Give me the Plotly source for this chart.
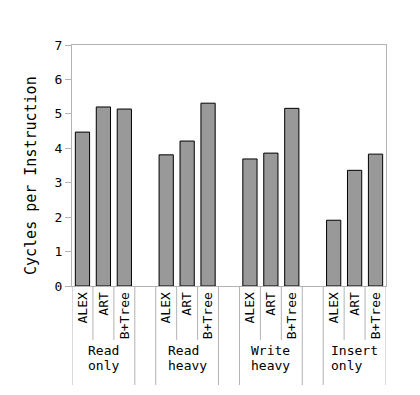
import plotly.graph_objects as go

workloads = ["Read only", "Read heavy", "Write heavy", "Insert only"]
workload_line1 = ["Read", "Read", "Write", "Insert"]
workload_line2 = ["only", "heavy", "heavy", "only"]
indexes = ["ALEX", "ART", "B+Tree"]
cpi_read_only = [4.47, 5.20, 5.14]
cpi_read_heavy = [3.81, 4.21, 5.31]
cpi_write_heavy = [3.69, 3.86, 5.16]
cpi_insert_only = [1.91, 3.36, 3.83]
cpi = [cpi_read_only, cpi_read_heavy, cpi_write_heavy, cpi_insert_only]
y_title = "Cycles per Instruction"

LINE = "#b3b3b3"
MONO = "DejaVu Sans Mono"

keys, ticktext, yv = [], [], []
group_mid = []
long_bounds, short_bounds = [], []
for i, w in enumerate(workloads):
    start = len(keys)
    long_bounds.append(start - 0.5)
    for j, idx in enumerate(indexes):
        keys.append(f"{w}|{idx}")
        ticktext.append(idx)
        yv.append(cpi[i][j])
        if j > 0:
            short_bounds.append(start + j - 0.5)
    group_mid.append(keys[start + 1])
    long_bounds.append(len(keys) - 0.5)
    if i < len(workloads) - 1:
        keys.append(f"gap{i}")
        ticktext.append("")
        yv.append(None)

fig = go.Figure(go.Bar(
    x=keys, y=yv,
    marker=dict(color="#999999", line=dict(color="black", width=1)),
))

shapes = []
for b in short_bounds:
    shapes.append(dict(type="line", xref="x", yref="paper", x0=b, x1=b, y0=0, y1=-0.224,
                       line=dict(color=LINE, width=1)))
for b in long_bounds:
    shapes.append(dict(type="line", xref="x", yref="paper", x0=b, x1=b, y0=0, y1=-0.411,
                       line=dict(color=LINE, width=1)))

annotations = []
for l1, l2, mid in zip(workload_line1, workload_line2, group_mid):
    n = max(len(l1), len(l2))
    for k, line in enumerate([l1, l2]):
        # pad with no-break spaces so both lines share a left edge (monospace)
        txt = line + "\u00a0" * (n - len(line))
        annotations.append(dict(text=txt, x=mid, xref="x", y=-0.230 - 0.062 * k, yref="paper",
                                xanchor="center", yanchor="top", showarrow=False,
                                font=dict(family=MONO, size=13, color="black")))
annotations.append(dict(text=y_title, textangle=-90, x=-0.131, xref="paper", y=0.46, yref="paper",
                        xanchor="center", yanchor="middle", showarrow=False,
                        font=dict(family=MONO, size=15, color="black")))

fig.update_layout(
    width=412, height=387,
    margin=dict(l=64, r=34, t=37, b=109),
    paper_bgcolor="white", plot_bgcolor="white",
    bargap=0.32, showlegend=False,
    font=dict(family=MONO, size=13, color="black"),
    shapes=shapes, annotations=annotations,
)
fig.update_xaxes(
    type="category", categoryorder="array", categoryarray=keys,
    tickmode="array", tickvals=keys, ticktext=ticktext, tickangle=-90,
    showline=True, linecolor=LINE, linewidth=1, mirror=True,
    ticks="", showgrid=False, automargin=False, range=[-0.5, len(keys) - 0.5],
    tickfont=dict(family=MONO, size=13, color="black"),
)
fig.update_yaxes(
    range=[0, 7], dtick=1, showgrid=False, zeroline=False,
    showline=True, linecolor=LINE, linewidth=1, mirror=True,
    ticks="outside", ticklen=6, tickcolor=LINE, automargin=False,
    tickfont=dict(family=MONO, size=13, color="black"),
)
fig.write_html("out.html")
